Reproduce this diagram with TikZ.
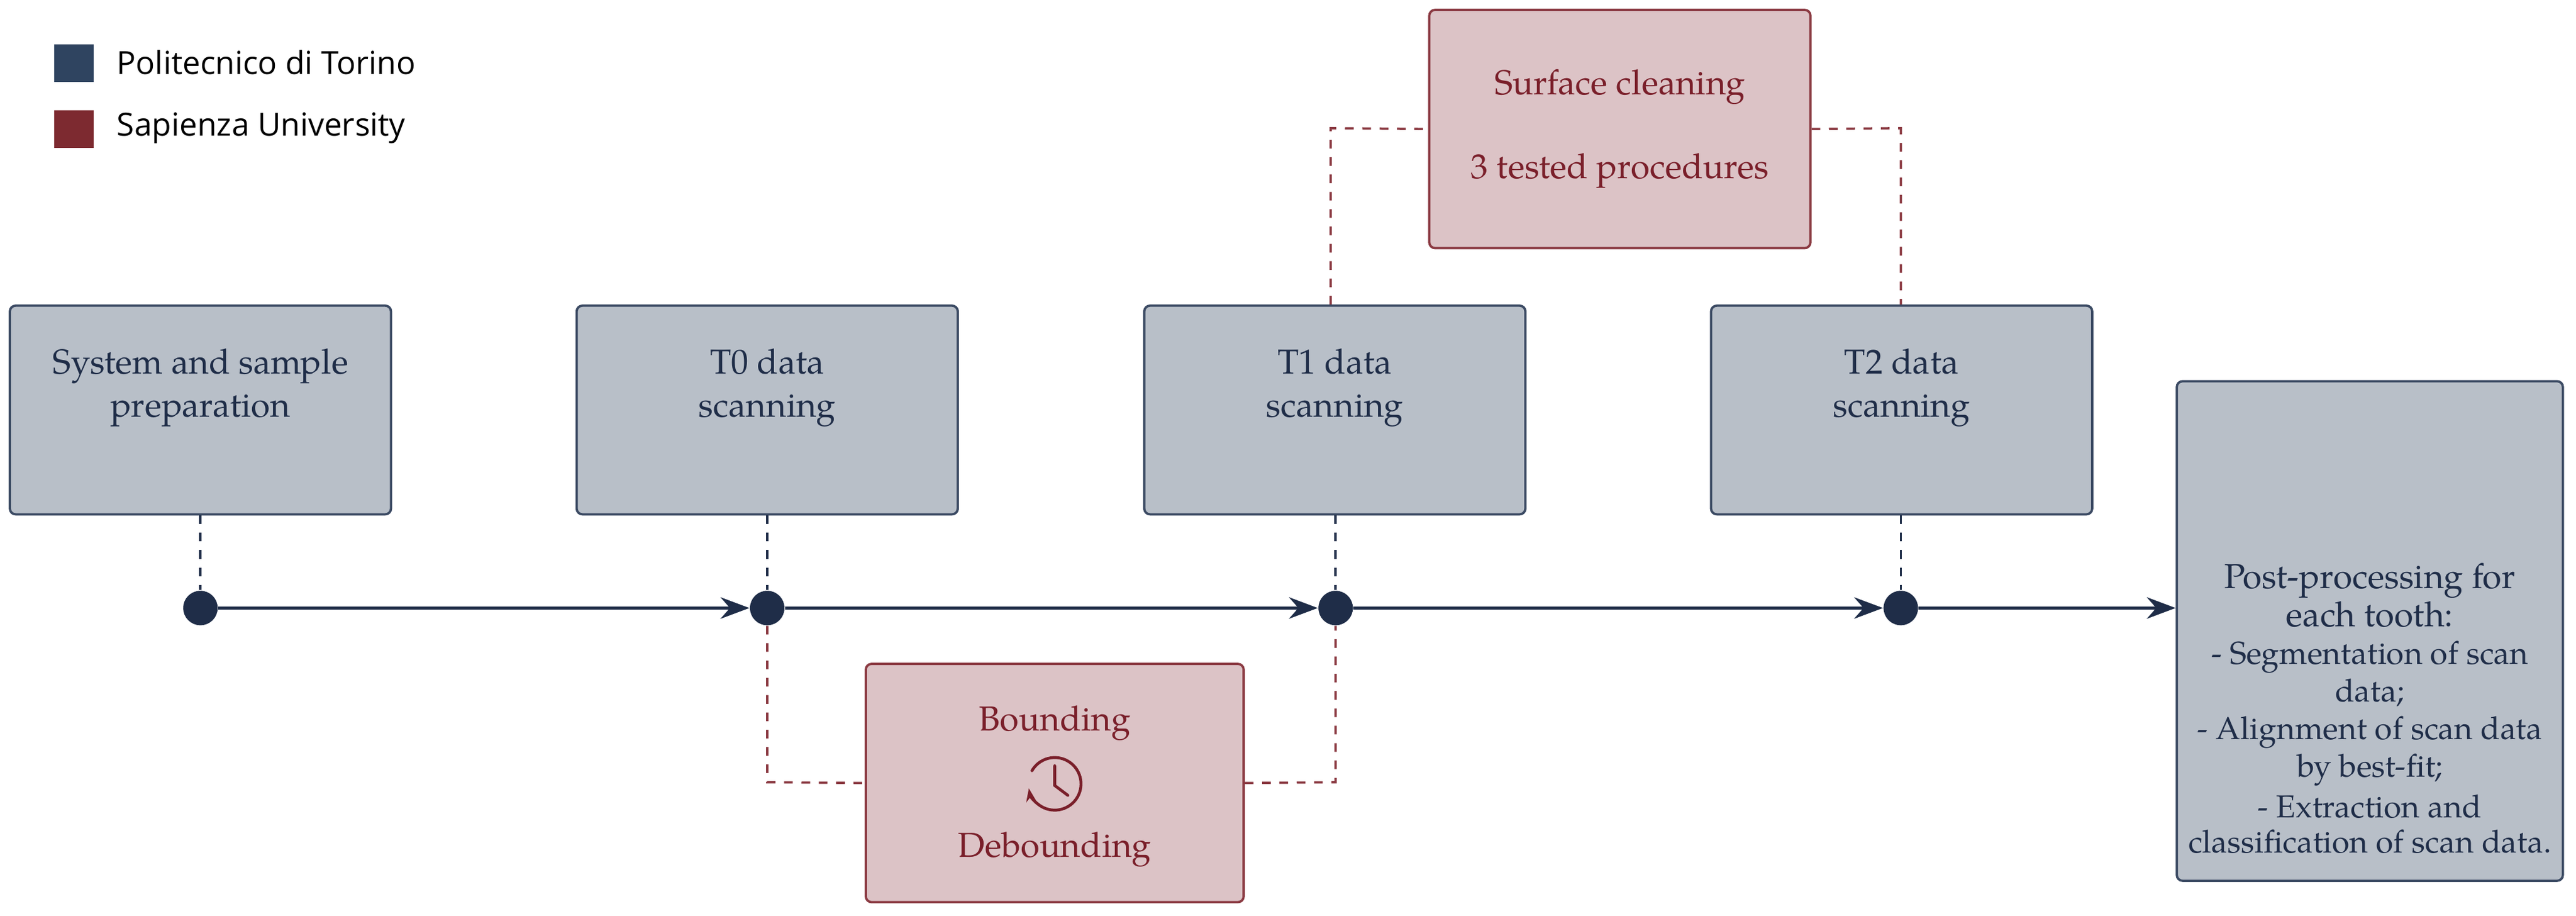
\documentclass[tikz,border=0pt]{standalone}
\usepackage{fontspec}
\setmainfont{TeX Gyre Pagella}[Path=/usr/share/texmf/fonts/opentype/public/tex-gyre/,Extension=.otf,UprightFont=texgyrepagella-regular]
\newfontfamily\legendfont{Open Sans}
\usetikzlibrary{arrows.meta}
\definecolor{navy}{HTML}{1F2D48}
\definecolor{gbox}{HTML}{B8BFC8}
\definecolor{gline}{HTML}{3B4A63}
\definecolor{rbox}{HTML}{DCC3C6}
\definecolor{rline}{HTML}{8B3A42}
\definecolor{rtext}{HTML}{7A1F2A}
\definecolor{legblue}{HTML}{2F4460}
\definecolor{legred}{HTML}{7D2A30}
\begin{document}
\begin{tikzpicture}[x=0.2mm,y=-0.2mm,
 gb/.style={draw=gline,fill=gbox,line width=0.8pt,rounded corners=2pt},
 gt/.style={text=navy,font=\fontsize{12}{15}\selectfont,align=center},
 rb/.style={draw=rline,fill=rbox,line width=0.8pt,rounded corners=2pt,text=rtext,font=\fontsize{12}{15}\selectfont,align=center},
 dot/.style={circle,fill=navy,inner sep=0pt,minimum size=4.2mm},
 tl/.style={navy,line width=1.1pt,-{Stealth[length=3.5mm,width=2.6mm]}},
 gd/.style={navy,dashed,line width=0.8pt},
 rd/.style={rline,dashed,line width=0.8pt}]
\useasboundingbox (0,0) rectangle (1568,557.4);
% legend
\fill[legblue] (33,27) rectangle (57,50);
\fill[legred] (33,67) rectangle (57,90);
\node[anchor=west,font=\legendfont\fontsize{11}{13}\selectfont,text=black] (l1) at (65,38) {Politecnico di Torino};
\node[anchor=west,font=\legendfont\fontsize{11}{13}\selectfont,text=black] (l2) at (65,78) {Sapienza University};
% boxes
\node[gb,minimum width=232*0.2mm,minimum height=127*0.2mm] (b0) at (122,249.5) {};
\node[gb,minimum width=232*0.2mm,minimum height=127*0.2mm] (b1) at (467,249.5) {};
\node[gb,minimum width=232*0.2mm,minimum height=127*0.2mm] (b2) at (812.5,249.5) {};
\node[gb,minimum width=232*0.2mm,minimum height=127*0.2mm] (b3) at (1157.5,249.5) {};
\node[gt] (t0) at (122,236) {System and sample\\preparation};
\node[gt] (t1) at (467,236) {T0 data\\scanning};
\node[gt] (t2) at (812.5,236) {T1 data\\scanning};
\node[gt] (t3) at (1157.5,236) {T2 data\\scanning};
\node[gb,minimum width=235*0.2mm,minimum height=304*0.2mm] (b4) at (1442.5,384) {};
\node[gt,font=\fontsize{11}{11}\selectfont] (t4) at (1442.5,431) {\fontsize{12}{10}\selectfont Post-processing for\\[0pt]\fontsize{12}{10}\selectfont each tooth:\\[2pt]- Segmentation of scan\\[1pt]data;\\[2pt]- Alignment of scan data\\[1pt]by best-fit;\\[2pt]- Extraction and\\[1pt]classification of scan data.};
\node[rb,minimum width=232*0.2mm,minimum height=145*0.2mm] (r1) at (986,78.5) {Surface cleaning\\[14pt]3 tested procedures};
\node[rb,minimum width=230*0.2mm,minimum height=145*0.2mm] (r2) at (642,476.5) {};
\node[text=rtext,font=\fontsize{12}{15}\selectfont] (r2a) at (642,440) {Bounding};
\node[text=rtext,font=\fontsize{12}{15}\selectfont] (r2b) at (642,517) {Debounding};
% clock icon
\begin{scope}[rtext,line width=1pt,line cap=round]
\draw[-{Stealth[length=1.6mm]}] (642,477) ++(-150:16) arc[start angle=-150,end angle=170,radius=16];
\draw (642,466) -- (642,478) -- (650,484);
\end{scope}
% dots
\node[dot] (d0) at (122,370) {};
\node[dot] (d1) at (467,370) {};
\node[dot] (d2) at (813,370) {};
\node[dot] (d3) at (1157,370) {};
\draw[tl] (d0) -- (d1);
\draw[tl] (d1) -- (d2);
\draw[tl] (d2) -- (d3);
\draw[tl] (d3) -- (b4.west|-d3);
\draw[gd] (b0.south) -- (d0);
\draw[gd] (b1.south) -- (d1);
\draw[gd] (b2.south-|d2) -- (d2);
\draw[gd] (b3.south-|d3) -- (d3);
\draw[rd] (d1) -- (467,476) -- (r2.west);
\draw[rd] (r2.east) -- (813,476) -- (d2);
\draw[rd] (b2.north-|810,0) -- (810,78) -- (r1.west);
\draw[rd] (r1.east) -- (1157,78) -- (b3.north-|1157,0);
\end{tikzpicture}
\end{document}
